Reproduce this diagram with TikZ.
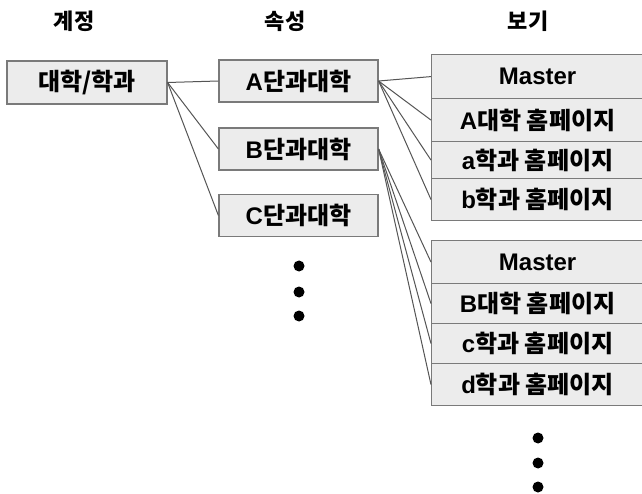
\documentclass[tikz,border=0pt]{standalone}
\usepackage{fontspec}
\setmainfont{Noto Sans CJK KR}
\newfontfamily\lat{Liberation Sans}
\definecolor{boxfill}{HTML}{ECECEC}
\definecolor{boxdraw}{HTML}{7A7A7A}
\definecolor{linecol}{HTML}{555555}
\begin{document}
\begin{tikzpicture}[x=1pt,y=-1pt,
  head/.style={font=\fontsize{22}{26}\selectfont\bfseries, text=black, inner sep=0pt},
  txt/.style={font=\fontsize{24}{28}\selectfont\bfseries, text=black, inner sep=0pt},
  box/.style={txt, draw=boxdraw, fill=boxfill, line width=1.2pt, minimum width=160pt, minimum height=43pt},
  row/.style={txt, draw=boxdraw, fill=boxfill, line width=1.2pt, minimum width=212pt, anchor=north west},
  conn/.style={draw=linecol, line width=1pt},
  dot/.style={circle, fill=black, inner sep=0pt, minimum size=11pt}]
\useasboundingbox (0,0) rectangle (642,494);
\fill[white] (0,0) rectangle (642,494);
% headers
\node[head] (h1) at (74,21) {계정};
\node[head] (h2) at (285,21) {속성};
\node[head] (h3) at (528,21) {보기};
% left and middle boxes
\node[box] (root) at (87,82.5) {대학/학과};
\node[box, minimum width=159pt, minimum height=42pt] (A) at (298.5,81) {{\lat A}단과대학};
\node[box, minimum width=159pt, minimum height=42pt] (B) at (298.5,149) {{\lat B}단과대학};
\node[box, minimum width=159pt, minimum height=42pt] (C) at (298.5,215.5) {{\lat C}단과대학};
% group 1
\node[row, minimum height=44pt] (m1) at (431,54) {{\lat Master}};
\node[row, minimum height=43pt] (r1a) at (431,98) {{\lat A}대학 홈페이지};
\node[row, minimum height=37pt] (r1b) at (431,141) {{\lat a}학과 홈페이지};
\node[row, minimum height=42pt] (r1c) at (431,178) {{\lat b}학과 홈페이지};
% group 2
\node[row, minimum height=43pt] (m2) at (431,240) {{\lat Master}};
\node[row, minimum height=40pt] (r2a) at (431,283) {{\lat B}대학 홈페이지};
\node[row, minimum height=40pt] (r2b) at (431,323) {{\lat c}학과 홈페이지};
\node[row, minimum height=42pt] (r2c) at (431,363) {{\lat d}학과 홈페이지};
% connectors
\draw[conn] (root.east) -- (A.west);
\draw[conn] (root.east) -- (B.west);
\draw[conn] (root.east) -- (C.west);
\foreach \t in {m1,r1a,r1b,r1c} \draw[conn] (A.east) -- (\t.west);
\foreach \t in {m2,r2a,r2b,r2c} \draw[conn] (B.east) -- (\t.west);
% dots
\node[dot] (d1) at (299,266) {};
\node[dot] (d2) at (299,292) {};
\node[dot] (d3) at (299,316) {};
\node[dot] (e1) at (538,438) {};
\node[dot] (e2) at (538,463) {};
\node[dot] (e3) at (538,487) {};
\end{tikzpicture}
\end{document}
